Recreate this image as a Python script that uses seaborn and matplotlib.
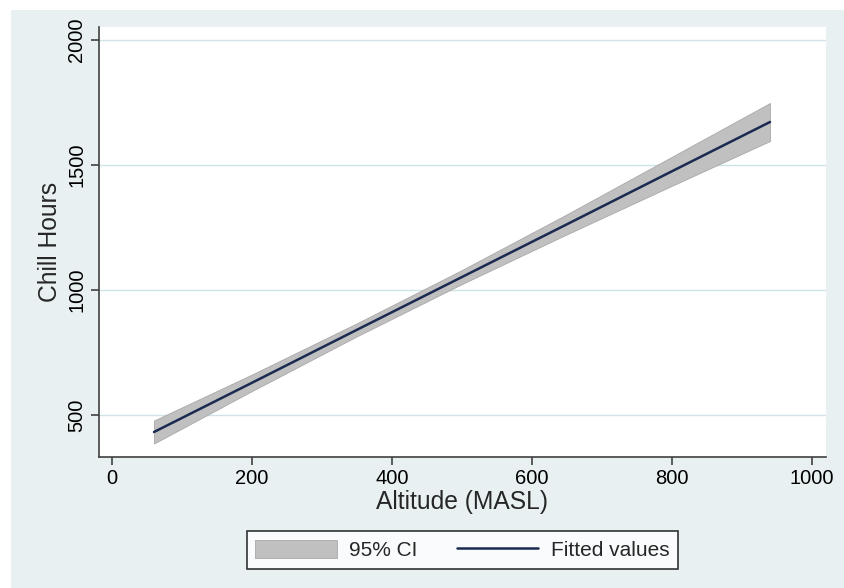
import numpy as np
import pandas as pd
import matplotlib.pyplot as plt
import seaborn as sns
from matplotlib.patches import Patch, Rectangle
from matplotlib.lines import Line2D

# datos
altitud = [60, 200, 350, 500, 650, 800, 940]
ajuste  = [432, 629, 841, 1052, 1263, 1475, 1672]
ic_inf  = [386, 596, 815, 1024, 1223, 1417, 1596]
ic_sup  = [478, 662, 867, 1080, 1303, 1533, 1748]

y_ticks = [500, 1000, 1500, 2000]
x_ticks = [0, 200, 400, 600, 800, 1000]

df = pd.DataFrame({"Altitud": altitud, "Ajuste": ajuste,
                   "Inf": ic_inf, "Sup": ic_sup})

sns.set_theme(style="white")
plt.rcParams["font.family"] = ["Liberation Sans", "DejaVu Sans"]

BG = "#e8f0f2"
fig = plt.figure(figsize=(8.45, 5.88), dpi=100, facecolor="white")
fig.add_artist(Rectangle((11/845, 0), 1 - 12/845, 1 - 10/588,
                         transform=fig.transFigure, facecolor=BG,
                         edgecolor="none", zorder=-10))
ax = fig.add_axes([99/845, 131/588, 727/845, 430/588])
ax.set_zorder(1)
ax.set_facecolor("white")

ax.fill_between(df["Altitud"], df["Inf"], df["Sup"], color="#c0c0c0",
                edgecolor="#a8a8a8", linewidth=0.6, zorder=2)
sns.lineplot(data=df, x="Altitud", y="Ajuste", ax=ax, color="#1a2a50",
             linewidth=1.8, zorder=3)

ax.set_xlim(-18.6, 1020)
ax.set_ylim(332, 2052)
ax.set_xticks(x_ticks)
ax.set_yticks(y_ticks)
ax.yaxis.grid(True, color="#cfe2e6", linewidth=1)
ax.xaxis.grid(False)
ax.set_axisbelow(True)

for s in ["top", "right"]:
    ax.spines[s].set_visible(False)
for s in ["left", "bottom"]:
    ax.spines[s].set_color("#404040")
    ax.spines[s].set_linewidth(1.2)

ax.tick_params(axis="both", bottom=True, left=True, direction="out",
               length=6, width=1.2, color="#404040", labelsize=14.5,
               labelcolor="black", pad=3)
plt.setp(ax.get_yticklabels(), rotation=90, va="center")

ax.set_xlabel("Altitude (MASL)", fontsize=17.7, labelpad=1)
ax.set_ylabel("Chill Hours", fontsize=17.7, labelpad=4)

handles = [Patch(facecolor="#c0c0c0", edgecolor="#a8a8a8", linewidth=0.6),
           Line2D([0], [0], color="#1a2a50", linewidth=1.8)]
leg = ax.legend(handles, ["95% CI", "Fitted values"], ncol=2,
                loc="upper center", bbox_to_anchor=(0.5, -0.148),
                fontsize=15, frameon=True, fancybox=False,
                edgecolor="black", handlelength=3.9, handleheight=1.0,
                handletextpad=0.6, columnspacing=1.9, borderpad=0.42)
leg.get_frame().set_linewidth(1.2)

fig.savefig("out.png", dpi=100, facecolor=fig.get_facecolor())
